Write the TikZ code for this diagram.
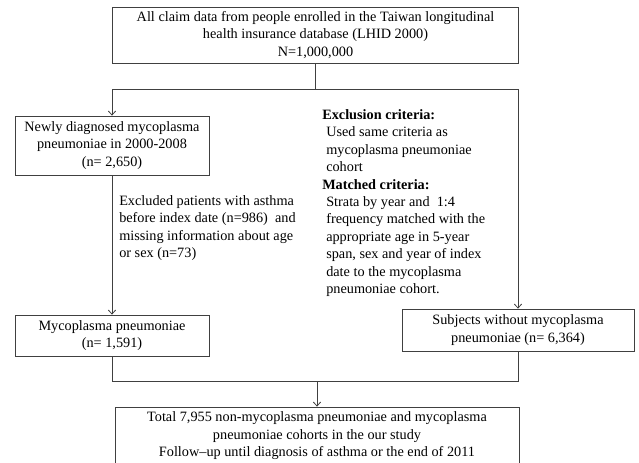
\documentclass[tikz,border=0pt]{standalone}
\usepackage{fontspec}
\setmainfont{Liberation Serif}
\usepackage{tikz}
\usetikzlibrary{positioning,arrows.meta}

\tikzset{
    flowbox/.style={rectangle, draw=black!75, line width=0.6pt, align=center, inner sep=0pt},
    flowline/.style={draw=black!75, line width=0.6pt},
    >={Straight Barb[length=3pt,width=5.5pt]}
}
\newcommand{\ind}{\hspace*{3pt}}

\begin{document}
\begin{tikzpicture}[x=0.75pt, y=-0.75pt, font=\fontsize{10.7}{13.1}\selectfont]
    \useasboundingbox (0,0) rectangle (639,462);

    % Source population
    \node [flowbox, minimum width=305pt, minimum height=42pt] (lhid) at (315.5,35) {
        All claim data from people enrolled in the Taiwan longitudinal\\
        health insurance database (LHID 2000)\\
        N=1,000,000
    };

    % Left branch - cases
    \node [flowbox, minimum width=145.5pt, minimum height=44.25pt] (newly) at (112,145.5) {
        Newly diagnosed mycoplasma\\
        pneumoniae in 2000-2008\\
        (n= 2,650)
    };
    \node [flowbox, minimum width=145.5pt, minimum height=30.75pt] (myco) at (112,335.5) {
        Mycoplasma pneumoniae\\
        (n= 1,591)
    };
    \node [align=left, anchor=north west, inner sep=0pt] (excluded) at (119,195) {
        Excluded patients with asthma\\
        before index date (n=986)~ and\\
        missing information about age\\
        or sex (n=73)
    };

    % Right branch - comparison cohort
    \node [flowbox, minimum width=174pt, minimum height=31.5pt] (without) at (518,330) {
        Subjects without mycoplasma\\
        pneumoniae (n= 6,364)
    };
    \node [align=left, anchor=north west, inner sep=0pt] (criteria) at (322,109) {
        \textbf{Exclusion criteria:}\\
        \ind Used same criteria as\\
        \ind mycoplasma pneumoniae\\
        \ind cohort\\
        \textbf{Matched criteria:}\\
        \ind Strata by year and~ 1:4\\
        \ind frequency matched with the\\
        \ind appropriate age in 5-year\\
        \ind span, sex and year of index\\
        \ind date to the mycoplasma\\
        \ind pneumoniae cohort.
    };

    % Study cohort
    \node [flowbox, minimum width=303pt, minimum height=43.5pt] (total) at (317,436) {
        Total 7,955 non-mycoplasma pneumoniae and mycoplasma\\
        pneumoniae cohorts in the our study\\
        Follow--up until diagnosis of asthma or the end of 2011
    };

    % Connectors
    \coordinate (fork) at (315.5,89);
    \coordinate (join) at (317,381);
    \draw [flowline] (lhid) -- (fork);
    \draw [flowline, ->] (fork) -| (newly);
    \draw [flowline, ->] (fork) -| (without);
    \draw [flowline, ->] (newly) -- (myco);
    \draw [flowline] (myco) |- (join) -| (without);
    \draw [flowline, ->] (join) -- (total);

\end{tikzpicture}
\end{document}
